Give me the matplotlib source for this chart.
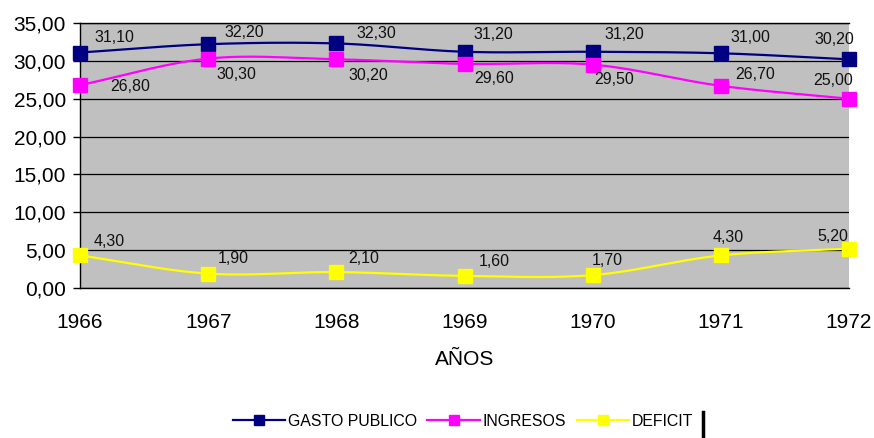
import numpy as np
import matplotlib.pyplot as plt
from matplotlib.lines import Line2D

plt.rcParams['font.family'] = ['Liberation Sans', 'DejaVu Sans']

# series data
years = [1966, 1967, 1968, 1969, 1970, 1971, 1972]
gasto_publico = [31.10, 32.20, 32.30, 31.20, 31.20, 31.00, 30.20]
ingresos = [26.80, 30.30, 30.20, 29.60, 29.50, 26.70, 25.00]
deficit = [4.30, 1.90, 2.10, 1.60, 1.70, 4.30, 5.20]

# label offsets (pixels) for the value labels: (dx of left edge, dy of center)
gasto_offs = [(14, 15), (16, 12), (20, 10), (9, 17), (12, 17), (10, 16), (-35, 20)]
ingresos_offs = [(30, -1), (8, -16), (12, -16), (10, -15), (2, -15), (14, 11), (-36, 18)]
deficit_offs = [(14, 14), (10, 15), (12, 14), (14, 14), (-1, 15), (-8, 18), (-32, 12)]


def smooth(x, y, n=30):
    # Catmull-Rom spline through the points, like the smoothed lines of a spreadsheet chart
    x = np.asarray(x, float)
    y = np.asarray(y, float)
    px = np.concatenate([[2 * x[0] - x[1]], x, [2 * x[-1] - x[-2]]])
    py = np.concatenate([[2 * y[0] - y[1]], y, [2 * y[-1] - y[-2]]])
    xs, ys = [], []
    t = np.linspace(0, 1, n)
    for i in range(1, len(px) - 2):
        for p, out in ((px, xs), (py, ys)):
            p0, p1, p2, p3 = p[i - 1], p[i], p[i + 1], p[i + 2]
            out.extend(0.5 * (2 * p1 + (-p0 + p2) * t
                              + (2 * p0 - 5 * p1 + 4 * p2 - p3) * t ** 2
                              + (-p0 + 3 * p1 - 3 * p2 + p3) * t ** 3))
    return np.array(xs), np.array(ys)


def fmt(v):
    return f'{v:.2f}'.replace('.', ',')


fig = plt.figure(figsize=(8.74, 4.38), dpi=100)
ax = fig.add_axes([80 / 874, 1 - 288 / 438, 769 / 874, 265 / 438])
ax.set_facecolor('#c0c0c0')

series = [
    ('GASTO PUBLICO', gasto_publico, '#000080', gasto_offs),
    ('INGRESOS', ingresos, '#ff00ff', ingresos_offs),
    ('DEFICIT', deficit, '#ffff00', deficit_offs),
]

handles = []
for name, vals, col, offs in series:
    sx, sy = smooth(years, vals)
    ax.plot(sx, sy, color=col, lw=1.6, zorder=3)
    ax.plot(years, vals, ls='none', marker='s', ms=9.5, color=col,
            clip_on=False, zorder=4)
    for x, v, (dx, dy) in zip(years, vals, offs):
        ax.annotate(fmt(v), (x, v), xytext=(dx * 0.72, dy * 0.72),
                    textcoords='offset points', ha='left', va='center',
                    fontsize=11.5, color='#111111', zorder=5)
    handles.append(Line2D([], [], color=col, lw=1.6, marker='s', ms=6.5))

ax.set_xlim(1966, 1972)
ax.set_ylim(0, 35)
ax.set_yticks(np.arange(0, 36, 5))
ax.set_yticklabels([fmt(v) for v in np.arange(0, 36, 5)], fontsize=15)
ax.set_xticks(years)
ax.set_xticklabels([str(y) for y in years], fontsize=15)
ax.tick_params(axis='x', length=0, pad=18)
ax.tick_params(axis='y', length=5, width=1, direction='out', pad=5)
ax.grid(axis='y', color='black', lw=0.9)
ax.set_axisbelow(True)
ax.spines['right'].set_visible(False)
for s in ('left', 'bottom', 'top'):
    ax.spines[s].set_color('black')
    ax.spines[s].set_linewidth(1)
ax.set_xlabel('AÑOS', fontsize=15, labelpad=13)

fig.legend(handles, [s[0] for s in series], loc='center', ncol=3,
           bbox_to_anchor=(463 / 874, 1 - 421 / 438), frameon=False,
           fontsize=11.4, handlelength=3.3, handletextpad=0.2, columnspacing=0.65,
           borderpad=0)
fig.add_artist(Line2D([703 / 874, 703 / 874], [1 - 437 / 438, 1 - 412 / 438],
                      color='black', lw=2.5, transform=fig.transFigure))

fig.savefig('out.png', dpi=100)
